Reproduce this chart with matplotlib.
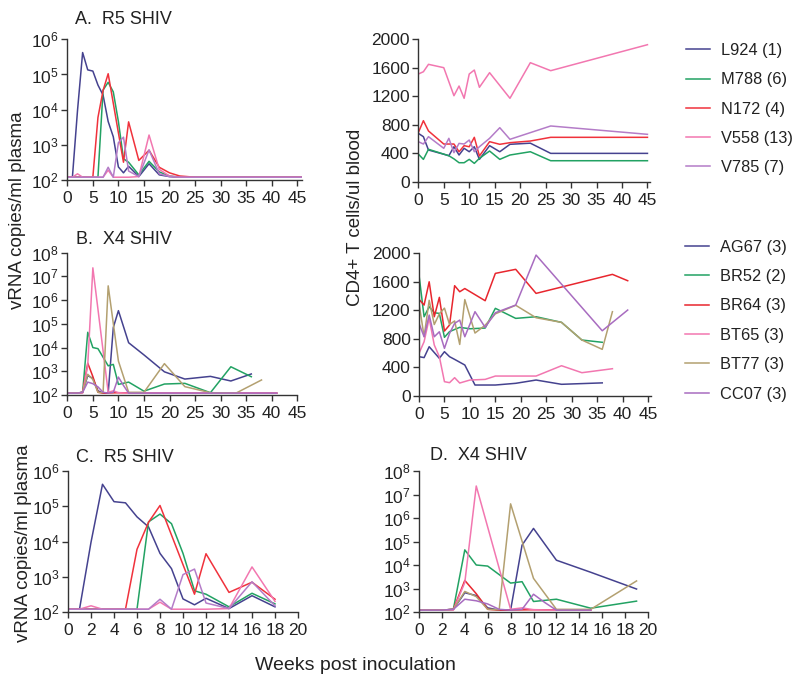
import matplotlib
matplotlib.use('Agg')
import matplotlib.pyplot as plt
import numpy as np
from matplotlib.ticker import FixedLocator, FuncFormatter, NullLocator

plt.rcParams['font.family'] = ['Liberation Sans', 'DejaVu Sans']
plt.rcParams['mathtext.fontset'] = 'custom'
plt.rcParams['mathtext.rm'] = 'Liberation Sans'
plt.rcParams['mathtext.default'] = 'regular'
plt.rcParams['text.color'] = '#222222'
plt.rcParams['axes.edgecolor'] = '#333333'
plt.rcParams['xtick.color'] = '#333333'
plt.rcParams['ytick.color'] = '#333333'
plt.rcParams['xtick.labelcolor'] = '#222222'
plt.rcParams['ytick.labelcolor'] = '#222222'

# ---- R5 SHIV animals ----
r5_labels = ['L924 (1)', 'M788 (6)', 'N172 (4)', 'V558 (13)', 'V785 (7)']
r5_colors = ['#45428f', '#22a263', '#f0323c', '#f277b0', '#b47cc8']

# plasma vRNA (copies/ml)
l924_vl_wk = [0, 1, 2, 3, 4, 5, 6, 7, 8, 9, 10, 11, 12, 14, 16, 18, 20, 22, 26, 30, 36, 40, 46]
l924_vl = [120, 120, 9500, 4.2e5, 1.35e5, 1.25e5, 5e4, 2.6e4, 4.6e3, 1.7e3, 235, 160, 245, 125, 290, 140,
           125, 120, 120, 120, 120, 120, 120]
m788_vl_wk = [0, 1, 2, 3, 4, 5, 6, 7, 8, 9, 10, 11, 12, 14, 16, 18, 20, 22, 26, 30, 36, 40, 46]
m788_vl = [120, 120, 120, 120, 120, 120, 120, 3.6e4, 6e4, 3.2e4, 4.6e3, 400, 320, 140, 340, 170,
           130, 120, 120, 120, 120, 120, 120]
n172_vl_wk = [0, 1, 2, 3, 4, 5, 6, 7, 8, 11, 12, 14, 16, 18, 20, 22, 25, 30, 36, 40, 46]
n172_vl = [120, 120, 120, 120, 120, 120, 6000, 3.5e4, 1.05e5, 320, 4500, 360, 700, 230,
           160, 130, 120, 120, 120, 120, 120]
v558_vl_wk = [0, 1, 2, 3, 4, 5, 6, 7, 8, 9, 10, 11, 12, 14, 16, 18, 20, 22, 26, 30, 36, 40, 46]
v558_vl = [120, 120, 150, 120, 120, 120, 120, 120, 190, 120, 120, 120, 120, 125, 1900, 200,
           130, 120, 120, 120, 120, 120, 120]
v785_vl_wk = [0, 1, 2, 3, 4, 5, 6, 7, 8, 9, 10, 11, 12, 14, 16, 18, 20, 22, 26, 30, 36, 40, 46]
v785_vl = [120, 120, 120, 120, 120, 120, 120, 120, 230, 120, 1150, 1650, 180, 125, 720, 150,
           125, 120, 120, 120, 120, 120, 120]

# CD4+ T cells/ul
l924_cd4_wk = [0, 1, 2, 5, 6, 7, 8, 9, 10, 11, 12, 14, 16, 18, 22, 26, 45]
l924_cd4 = [678, 631, 444, 385, 364, 490, 374, 468, 420, 490, 313, 505, 420, 524, 540, 397, 397]
m788_cd4_wk = [0, 1, 2, 6, 7, 8, 9, 10, 11, 12, 14, 16, 18, 22, 26, 45]
m788_cd4 = [388, 313, 454, 364, 320, 266, 266, 313, 257, 327, 430, 313, 374, 420, 294, 294]
n172_cd4_wk = [0, 1, 2, 5, 7, 8, 9, 10, 11, 12, 14, 16, 18, 22, 26, 45]
n172_cd4 = [687, 855, 711, 528, 528, 420, 505, 490, 622, 360, 561, 524, 547, 570, 622, 622]
v558_cd4_wk = [0, 1, 2, 5, 7, 8, 9, 10, 11, 12, 14, 18, 22, 26, 45]
v558_cd4 = [1509, 1541, 1645, 1598, 1205, 1341, 1169, 1509, 1565, 1323, 1528, 1169, 1668, 1556, 1920]
v785_cd4_wk = [0, 1, 2, 5, 6, 7, 8, 9, 10, 11, 12, 14, 16, 18, 26, 45]
v785_cd4 = [561, 528, 631, 468, 608, 407, 537, 528, 584, 420, 490, 608, 757, 594, 781, 664]

# ---- X4 SHIV animals ----
x4_labels = ['AG67 (3)', 'BR52 (2)', 'BR64 (3)', 'BT65 (3)', 'BT77 (3)', 'CC07 (3)']
x4_colors = ['#45428f', '#22a263', '#e8262e', '#f277b0', '#b3a070', '#a86cc0']

ag67_vl_wk = [0, 1, 2, 3, 4, 5, 6, 7, 8, 9, 10, 12, 15, 19, 23, 28, 32, 36]
ag67_vl = [120, 120, 120, 130, 660, 500, 150, 120, 120, 7e4, 3.6e5, 1.6e4, 4.9e3, 950, 470, 610, 390, 770]
br52_vl_wk = [0, 1, 2, 3, 4, 5, 6, 8, 9, 10, 12, 15, 19, 23, 28, 32, 36]
br52_vl = [120, 120, 120, 130, 4.4e4, 1e4, 9e3, 1700, 1950, 280, 350, 145, 290, 310, 125, 1550, 590]
br64_vl_wk = [0, 1, 2, 3, 4, 5, 6, 7, 10, 15, 20, 25, 30, 35, 41]
br64_vl = [120, 120, 120, 130, 2200, 600, 130, 120, 125, 120, 120, 120, 120, 120, 120]
bt65_vl_wk = [0, 1, 2, 3, 4, 5, 8, 9, 10, 12, 15, 20, 25, 30, 35, 41]
bt65_vl = [120, 120, 120, 120, 1800, 2.3e7, 130, 150, 125, 120, 120, 120, 120, 120, 120, 120]
bt77_vl_wk = [0, 1, 2, 3, 4, 5, 6, 7, 8, 10, 12, 15, 19, 23, 28, 33, 38]
bt77_vl = [120, 120, 120, 130, 750, 450, 130, 125, 4e6, 2700, 130, 130, 2100, 225, 125, 120, 430]
cc07_vl_wk = [0, 1, 2, 3, 4, 5, 6, 7, 8, 9, 10, 11, 12, 15, 20, 25, 30, 35, 41]
cc07_vl = [120, 120, 120, 130, 350, 300, 220, 130, 120, 130, 570, 250, 120, 120, 120, 120, 120, 120, 120]

ag67_cd4_wk = [0, 1, 2, 4, 5, 6, 7, 9, 11, 15, 19, 23, 28, 36]
ag67_cd4 = [548, 535, 688, 525, 618, 548, 510, 431, 150, 150, 174, 220, 160, 180]
br52_cd4_wk = [0, 1, 2, 3, 4, 5, 6, 8, 10, 13, 15, 19, 23, 28, 32, 36]
br52_cd4 = [1695, 1109, 1250, 1165, 1156, 820, 900, 960, 940, 950, 1227, 1086, 1109, 1030, 782, 750]
br64_cd4_wk = [0, 1, 2, 3, 4, 5, 6, 7, 8, 9, 13, 15, 19, 23, 38, 41]
br64_cd4 = [1353, 1273, 1600, 1109, 1381, 908, 993, 1545, 1460, 1505, 1334, 1718, 1775, 1437, 1704, 1615]
bt65_cd4_wk = [0, 1, 2, 3, 4, 5, 6, 7, 8, 10, 13, 15, 23, 28, 32, 38]
bt65_cd4 = [595, 758, 1086, 712, 548, 197, 183, 253, 178, 220, 229, 276, 276, 421, 323, 379]
bt77_cd4_wk = [0, 1, 2, 3, 4, 5, 6, 7, 8, 9, 11, 13, 15, 19, 23, 28, 32, 36, 38]
bt77_cd4 = [1300, 830, 1340, 1000, 1150, 1230, 1000, 1050, 720, 1350, 880, 990, 1150, 1270, 1095, 1030,
            782, 651, 1180]
cc07_cd4_wk = [0, 1, 2, 3, 4, 5, 6, 7, 8, 9, 11, 13, 15, 19, 23, 36, 41]
cc07_cd4 = [1016, 828, 1133, 828, 898, 665, 875, 1016, 1062, 828, 1180, 960, 1165, 1273, 1975, 912, 1203]

r5_vl = [(l924_vl_wk, l924_vl), (m788_vl_wk, m788_vl), (n172_vl_wk, n172_vl),
         (v558_vl_wk, v558_vl), (v785_vl_wk, v785_vl)]
r5_cd4 = [(l924_cd4_wk, l924_cd4), (m788_cd4_wk, m788_cd4), (n172_cd4_wk, n172_cd4),
          (v558_cd4_wk, v558_cd4), (v785_cd4_wk, v785_cd4)]
x4_vl = [(ag67_vl_wk, ag67_vl), (br52_vl_wk, br52_vl), (br64_vl_wk, br64_vl),
         (bt65_vl_wk, bt65_vl), (bt77_vl_wk, bt77_vl), (cc07_vl_wk, cc07_vl)]
x4_cd4 = [(ag67_cd4_wk, ag67_cd4), (br52_cd4_wk, br52_cd4), (br64_cd4_wk, br64_cd4),
          (bt65_cd4_wk, bt65_cd4), (bt77_cd4_wk, bt77_cd4), (cc07_cd4_wk, cc07_cd4)]

W, H = 800, 683
FS = 12.5


def box(x0, x1, ytop, ybot):
    # pixel box -> figure fraction
    return [x0 / W, 1 - ybot / H, (x1 - x0) / W, (ybot - ytop) / H]


def style(ax):
    for s in ['top', 'right']:
        ax.spines[s].set_visible(False)
    for s in ['left', 'bottom']:
        ax.spines[s].set_linewidth(1.0)
    ax.tick_params(axis='x', direction='out', length=4, width=1.0, labelsize=FS, pad=4)
    ax.tick_params(axis='y', direction='out', length=4, width=1.0, labelsize=FS, pad=2)


def log_panel(ax, series, colors, xmax, xstep, wk_max, top_exp):
    lines = []
    for (wk, val), c in zip(series, colors):
        wk = np.array(wk)
        val = np.array(val)
        keep = wk <= wk_max
        ln, = ax.plot(wk[keep], val[keep], color=c, lw=1.1)
        lines.append(ln)
    ax.set_yscale('log')
    ax.set_ylim(1e2, 10 ** top_exp)
    ax.set_xlim(0, xmax)
    ax.yaxis.set_major_locator(FixedLocator([10 ** e for e in range(2, top_exp + 1)]))
    ax.yaxis.set_minor_locator(NullLocator())
    ax.yaxis.set_major_formatter(FuncFormatter(lambda v, p: r'$10^{%d}$' % round(np.log10(v))))
    ax.set_xticks(np.arange(0, xmax + 0.1, xstep))
    style(ax)
    return lines


def cd4_panel(ax, series, colors):
    for (wk, val), c in zip(series, colors):
        ax.plot(wk, val, color=c, lw=1.1)
    ax.set_ylim(0, 2000)
    ax.set_xlim(0, 45.5)
    ax.set_yticks(np.arange(0, 2001, 400))
    ax.set_xticks(np.arange(0, 46, 5))
    style(ax)


fig = plt.figure(figsize=(W / 100, H / 100), dpi=100)

ax_a = fig.add_axes(box(67.3, 302.3, 39.3, 180))
ax_ar = fig.add_axes(box(418.3, 650, 39, 181.7))
ax_b = fig.add_axes(box(67.3, 297.3, 252.7, 395))
ax_br = fig.add_axes(box(419, 650.6, 253.3, 395.7))
ax_c = fig.add_axes(box(68, 298, 471, 612))
ax_d = fig.add_axes(box(419, 648, 471, 612))

r5_lines = log_panel(ax_a, r5_vl, r5_colors, 46, 5, 46, 6)
cd4_panel(ax_ar, r5_cd4, r5_colors)
x4_lines = log_panel(ax_b, x4_vl, x4_colors, 45, 5, 45, 8)
cd4_panel(ax_br, x4_cd4, x4_colors)
log_panel(ax_c, r5_vl, r5_colors, 20, 2, 18, 6)
log_panel(ax_d, x4_vl, x4_colors, 20, 2, 19, 8)
ax_a.set_xticks(np.arange(0, 46, 5))

# panel titles
tfs = 13
fig.text(75 / W, 1 - 20 / H, 'A.  R5 SHIV', ha='left', va='center', fontsize=tfs)
fig.text(76 / W, 1 - 239 / H, 'B.  X4 SHIV', ha='left', va='center', fontsize=tfs)
fig.text(76 / W, 1 - 457 / H, 'C.  R5 SHIV', ha='left', va='center', fontsize=tfs)
fig.text(430 / W, 1 - 455 / H, 'D.  X4 SHIV', ha='left', va='center', fontsize=tfs)

# axis labels
lfs = 13.5
fig.text(18 / W, 1 - 210 / H, 'vRNA copies/ml plasma', rotation=90, ha='center', va='center', fontsize=lfs)
fig.text(24 / W, 1 - 543 / H, 'vRNA copies/ml plasma', rotation=90, ha='center', va='center', fontsize=lfs)
fig.text(356 / W, 1 - 217 / H, 'CD4+ T cells/ul blood', rotation=90, ha='center', va='center', fontsize=lfs)
fig.text(355 / W, 1 - 665 / H, 'Weeks post inoculation', ha='center', va='center', fontsize=14)

# legends
fig.legend(r5_lines, r5_labels, loc='upper left', bbox_to_anchor=(686 / W, 1 - 43 / H),
           frameon=False, fontsize=11.8, handlelength=1.45, handletextpad=0.7,
           labelspacing=0.87, borderpad=0, borderaxespad=0)
fig.legend(x4_lines, x4_labels, loc='upper left', bbox_to_anchor=(685 / W, 1 - 239.5 / H),
           frameon=False, fontsize=11.8, handlelength=1.45, handletextpad=0.7,
           labelspacing=0.88, borderpad=0, borderaxespad=0)

fig.savefig('out.png', dpi=100)
